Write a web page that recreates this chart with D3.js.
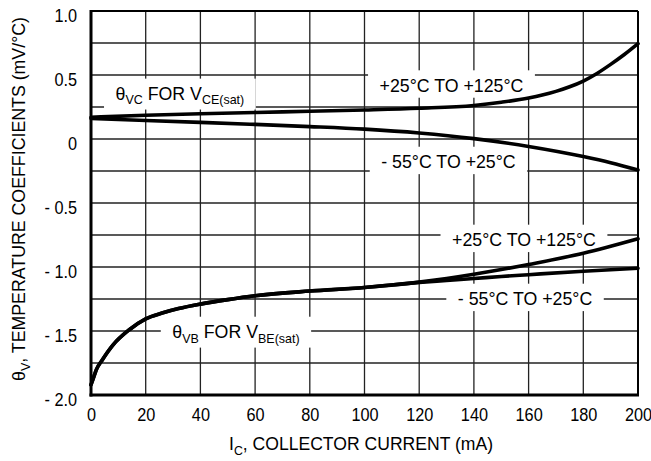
<!DOCTYPE html>
<html>
<head>
<meta charset="utf-8">
<script src="https://cdn.jsdelivr.net/npm/d3@7"></script>
<style>
  body { margin: 0; background: #fff; }
  text { font-family: "Liberation Sans", Arial, sans-serif; fill: #000; }
</style>
</head>
<body>
<div id="chart"></div>
<script>
// collector current (mA) sample points
const icVChot = [0, 20, 40, 60, 80, 100, 120, 140, 150, 160, 165, 170, 175, 180, 185, 190, 195, 200];
const vcHot = [0.17, 0.185, 0.197, 0.207, 0.217, 0.227, 0.24, 0.262, 0.287, 0.32, 0.343, 0.372, 0.408, 0.453, 0.512, 0.583, 0.66, 0.745];
const icVCcold = [0, 20, 40, 60, 80, 100, 120, 140, 160, 180, 190, 200];
const vcCold = [0.16, 0.145, 0.13, 0.114, 0.097, 0.077, 0.047, 0.003, -0.058, -0.137, -0.185, -0.242];

const icVB = [0, 1, 2, 4, 8, 14, 20, 26, 32, 40, 50, 60, 80, 100, 120, 130, 140, 150, 160, 180, 200];
const vbHot = [-1.92, -1.86, -1.80, -1.73, -1.61, -1.49, -1.405, -1.36, -1.325, -1.29, -1.255, -1.225, -1.188, -1.16, -1.118, -1.09, -1.057, -1.02, -0.98, -0.893, -0.78];
const vbCold = [-1.92, -1.86, -1.80, -1.73, -1.61, -1.49, -1.405, -1.36, -1.325, -1.29, -1.255, -1.225, -1.188, -1.16, -1.12, -1.105, -1.09, -1.074, -1.06, -1.033, -1.01];

const xTicks = [0, 20, 40, 60, 80, 100, 120, 140, 160, 180, 200];
const yTicks = [1.0, 0.5, 0, -0.5, -1.0, -1.5, -2.0];

// curve labels: text pieces (1 = subscript), anchored at (mA, value at baseline)
const curveLabels = [
  { parts: [['θ'], ['VC', 1], [' FOR V'], ['CE(sat)', 1]], x: 32.5, y: 0.305 },
  { parts: [['+25°C TO +125°C']], x: 131.8, y: 0.37 },
  { parts: [['- 55°C TO +25°C']], x: 130.7, y: -0.227 },
  { parts: [['+25°C TO +125°C']], x: 158.3, y: -0.836 },
  { parts: [['- 55°C TO +25°C']], x: 158.7, y: -1.297 },
  { parts: [['θ'], ['VB', 1], [' FOR V'], ['BE(sat)', 1]], x: 53, y: -1.555 },
];

const margin = { top: 11, right: 13, bottom: 66, left: 91 },
  width = 651 - margin.left - margin.right,
  height = 461 - margin.top - margin.bottom;

const fontSize = 18.5, subSize = 13, squeeze = 0.96;

const svg = d3.select('#chart')
  .append('svg')
  .attr('width', 651)
  .attr('height', 461);

const g = svg.append('g')
  .attr('transform', `translate(${margin.left},${margin.top})`);

const x = d3.scaleLinear().domain([0, 200]).range([0, width]);
const y = d3.scaleLinear().domain([-2, 1]).range([height, 0]);

// writes pieces into a text node, lowering the subscripts
function writeParts(t, parts) {
  let down = false;
  parts.forEach(p => {
    const sub = !!p[1];
    const ts = t.append('tspan').text(p[0]);
    if (sub && !down) { ts.attr('dy', 4.5); down = true; }
    else if (!sub && down) { ts.attr('dy', -4.5); down = false; }
    if (sub) ts.style('font-size', subSize + 'px');
  });
}

// grid
g.append('g')
  .selectAll('line')
  .data(d3.range(0, 201, 20))
  .join('line')
  .attr('x1', d => x(d)).attr('x2', d => x(d))
  .attr('y1', 0).attr('y2', height)
  .attr('stroke', '#222').attr('stroke-width', 1.3);

g.append('g')
  .selectAll('line')
  .data(d3.range(-2, 1.01, 0.25))
  .join('line')
  .attr('x1', 0).attr('x2', width)
  .attr('y1', d => y(d)).attr('y2', d => y(d))
  .attr('stroke', '#222').attr('stroke-width', 1.3);

// labels with white boxes that break the grid
curveLabels.forEach(l => {
  const lg = g.append('g')
    .attr('transform', `translate(${x(l.x)},${y(l.y)}) scale(${squeeze},1)`);
  const t = lg.append('text')
    .attr('text-anchor', 'middle')
    .style('font-size', fontSize + 'px');
  writeParts(t, l.parts);
  const bb = t.node().getBBox();
  lg.insert('rect', 'text')
    .attr('x', bb.x - 12)
    .attr('y', bb.y - 5)
    .attr('width', bb.width + 24)
    .attr('height', bb.height + 7)
    .attr('fill', '#fff');
});

// curves
const line = d3.line()
  .x(d => x(d[0]))
  .y(d => y(d[1]))
  .curve(d3.curveMonotoneX);

const series = [
  d3.zip(icVChot, vcHot),
  d3.zip(icVCcold, vcCold),
  d3.zip(icVB, vbHot),
  d3.zip(icVB, vbCold),
];

g.selectAll('path.curve')
  .data(series)
  .join('path')
  .attr('class', 'curve')
  .attr('d', line)
  .attr('fill', 'none')
  .attr('stroke', '#000')
  .attr('stroke-width', 3.6)
  .attr('stroke-linecap', 'round')
  .attr('stroke-linejoin', 'round');

// frame
g.append('line').attr('x1', 0).attr('x2', width).attr('y1', 0).attr('y2', 0)
  .attr('stroke', '#000').attr('stroke-width', 2);
g.append('line').attr('x1', width).attr('x2', width).attr('y1', 0).attr('y2', height)
  .attr('stroke', '#000').attr('stroke-width', 2);
g.append('line').attr('x1', 0).attr('x2', 0).attr('y1', -1).attr('y2', height + 1.5)
  .attr('stroke', '#000').attr('stroke-width', 3);
g.append('line').attr('x1', -1.5).attr('x2', width + 1).attr('y1', height).attr('y2', height)
  .attr('stroke', '#000').attr('stroke-width', 3);

// axes (labels only), digits a little condensed
const tickSqueeze = 0.88;
const xAxis = g.append('g')
  .attr('transform', `translate(0,${height})`)
  .call(d3.axisBottom(x).tickValues(xTicks).tickSize(0).tickPadding(13));
xAxis.select('.domain').remove();
xAxis.selectAll('text')
  .attr('transform', `scale(${tickSqueeze},1)`)
  .style('font-size', fontSize + 'px')
  .style('font-family', '"Liberation Sans", Arial, sans-serif')
  .attr('fill', '#000');

const fmt = v => v === 0 ? '0' : (v < 0 ? '- ' : '') + Math.abs(v).toFixed(1);
const yAxis = g.append('g')
  .call(d3.axisLeft(y).tickValues(yTicks).tickFormat(fmt).tickSize(0).tickPadding(14 / tickSqueeze));
yAxis.select('.domain').remove();
yAxis.selectAll('text')
  .attr('transform', `scale(${tickSqueeze},1)`)
  .attr('dy', '0.55em')
  .style('font-size', fontSize + 'px')
  .style('font-family', '"Liberation Sans", Arial, sans-serif')
  .attr('fill', '#000');

// axis titles
const xt = svg.append('text')
  .attr('transform', `translate(361,450) scale(${squeeze * 0.99},1)`)
  .attr('text-anchor', 'middle')
  .style('font-size', fontSize + 'px');
writeParts(xt, [['I'], ['C', 1], [', COLLECTOR CURRENT (mA)']]);

const yt = svg.append('text')
  .attr('transform', `translate(25,199) rotate(-90) scale(${squeeze},1)`)
  .attr('text-anchor', 'middle')
  .style('font-size', fontSize + 'px');
writeParts(yt, [['θ'], ['V', 1], [', TEMPERATURE COEFFICIENTS (mV/°C)']]);
</script>
</body>
</html>
